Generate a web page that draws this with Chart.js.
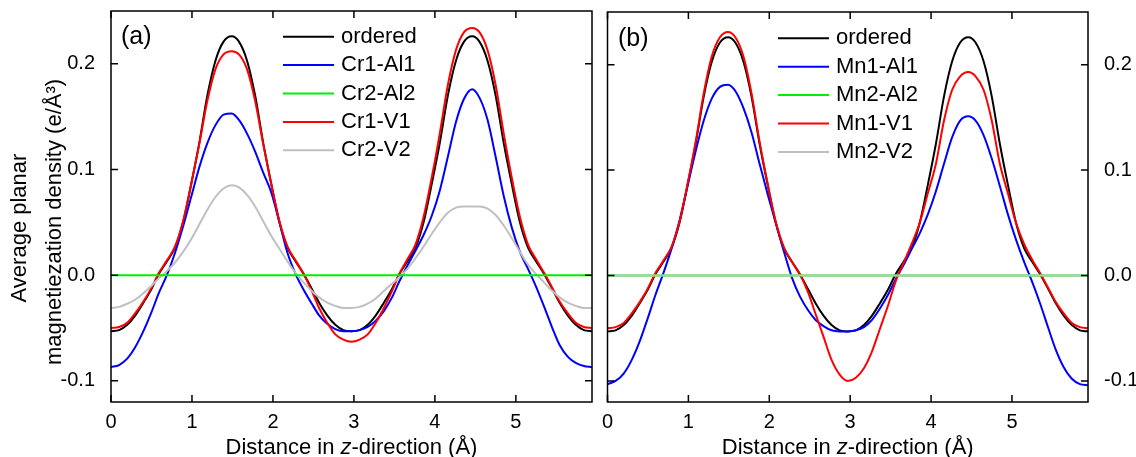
<!DOCTYPE html>
<html>
<head>
<meta charset="utf-8">
<script src="https://cdn.jsdelivr.net/npm/chart.js@4.4.0/dist/chart.umd.min.js"></script>
<style>
body { margin: 0; background: #fff; }
#wrap { position: relative; width: 1136px; height: 457px; }
canvas { position: absolute; top: 0; }
#chartA { left: 0; }
#chartB { left: 600px; }
</style>
</head>
<body>
<div id="wrap">
<canvas id="chartA" width="600" height="457"></canvas>
<canvas id="chartB" width="536" height="457"></canvas>
</div>
<script>
// sample positions along z (Å)
const zPos = [0.00,0.10,0.20,0.30,0.40,0.50,0.59,0.69,0.79,0.89,0.99,1.09,1.19,1.29,1.39,1.49,1.58,1.68,1.78,1.88,1.98,2.08,2.18,2.28,2.38,2.48,2.57,2.67,2.77,2.87,
  2.97,3.07,3.17,3.27,3.37,3.47,3.56,3.66,3.76,3.86,3.96,4.06,4.16,4.26,4.36,4.46,4.55,4.65,4.75,4.85,4.95,5.05,5.15,5.25,5.35,5.45,5.54,5.64,5.74,5.84,5.94];

const xTicks = [0, 1, 2, 3, 4, 5];
const yTicks = [-0.1, 0.0, 0.1, 0.2];

// ordered structure (same in both panels)
const ordered = [-0.053,-0.052,-0.047,-0.038,-0.026,-0.013,0.001,0.013,0.026,0.050,0.086,0.125,0.170,0.203,0.221,0.226,0.221,0.203,0.170,0.125,0.086,0.050,0.026,0.013,0.001,-0.013,-0.026,-0.038,-0.047,-0.052,
  -0.053,-0.052,-0.047,-0.038,-0.026,-0.013,0.001,0.013,0.026,0.050,0.086,0.125,0.170,0.203,0.221,0.226,0.221,0.203,0.170,0.125,0.086,0.050,0.026,0.013,0.001,-0.013,-0.026,-0.038,-0.047,-0.052,-0.053];

// panel (a): Cr swaps
const cr1Al1 = [-0.087,-0.085,-0.079,-0.068,-0.053,-0.035,-0.017,0.000,0.021,0.046,0.074,0.102,0.125,0.142,0.152,0.153,0.147,0.134,0.117,0.097,0.078,0.050,0.021,0.001,-0.014,-0.027,-0.038,-0.046,-0.051,-0.053,
  -0.053,-0.052,-0.049,-0.043,-0.034,-0.021,-0.006,0.009,0.023,0.038,0.056,0.080,0.112,0.145,0.167,0.176,0.168,0.147,0.112,0.075,0.045,0.022,0.006,-0.011,-0.030,-0.050,-0.066,-0.077,-0.083,-0.086,-0.087];
const cr2Al2 = [0,0,0,0,0,0,0,0,0,0,0,0,0,0,0,0,0,0,0,0,0,0,0,0,0,0,0,0,0,0,
  0,0,0,0,0,0,0,0,0,0,0,0,0,0,0,0,0,0,0,0,0,0,0,0,0,0,0,0,0,0,0];
const cr1V1 = [-0.050,-0.049,-0.045,-0.036,-0.025,-0.012,0.002,0.014,0.027,0.051,0.086,0.124,0.165,0.195,0.209,0.212,0.209,0.195,0.165,0.124,0.086,0.051,0.027,0.014,0.001,-0.015,-0.031,-0.045,-0.056,-0.061,
  -0.063,-0.061,-0.056,-0.045,-0.031,-0.015,0.001,0.015,0.029,0.055,0.092,0.134,0.180,0.213,0.230,0.234,0.230,0.213,0.180,0.134,0.092,0.055,0.029,0.015,0.002,-0.012,-0.025,-0.036,-0.045,-0.049,-0.050];
const cr2V2 = [-0.031,-0.030,-0.027,-0.023,-0.017,-0.010,-0.003,0.004,0.012,0.022,0.034,0.048,0.062,0.074,0.082,0.085,0.083,0.076,0.065,0.051,0.037,0.025,0.013,0.002,-0.007,-0.015,-0.021,-0.026,-0.029,-0.031,
  -0.031,-0.030,-0.027,-0.022,-0.015,-0.008,-0.002,0.006,0.016,0.027,0.039,0.050,0.059,0.064,0.065,0.065,0.065,0.063,0.057,0.047,0.035,0.022,0.010,0.001,-0.007,-0.015,-0.021,-0.026,-0.029,-0.031,-0.031];

// panel (b): Mn swaps
const mn1Al1 = [-0.103,-0.100,-0.093,-0.080,-0.062,-0.040,-0.019,0.002,0.025,0.052,0.085,0.118,0.147,0.168,0.179,0.181,0.175,0.159,0.136,0.106,0.077,0.050,0.023,-0.002,-0.020,-0.033,-0.042,-0.048,-0.052,-0.053,
  -0.053,-0.052,-0.049,-0.042,-0.031,-0.018,-0.004,0.010,0.025,0.040,0.058,0.080,0.106,0.131,0.147,0.151,0.147,0.133,0.111,0.085,0.058,0.034,0.013,-0.006,-0.027,-0.050,-0.070,-0.087,-0.098,-0.103,-0.104];
const mn2Al2 = [0,0,0,0,0,0,0,0,0,0,0,0,0,0,0,0,0,0,0,0,0,0,0,0,0,0,0,0,0,0,
  0,0,0,0,0,0,0,0,0,0,0,0,0,0,0,0,0,0,0,0,0,0,0,0,0,0,0,0,0,0,0];
const mn1V1 = [-0.050,-0.049,-0.045,-0.036,-0.025,-0.012,0.002,0.014,0.027,0.051,0.087,0.127,0.173,0.208,0.226,0.231,0.226,0.208,0.173,0.127,0.087,0.051,0.027,0.013,0.001,-0.016,-0.036,-0.058,-0.080,-0.094,
  -0.100,-0.097,-0.088,-0.072,-0.050,-0.028,-0.006,0.012,0.030,0.050,0.078,0.106,0.147,0.176,0.189,0.193,0.189,0.176,0.147,0.106,0.078,0.050,0.030,0.015,0.002,-0.012,-0.025,-0.036,-0.045,-0.049,-0.050];
const mn2V2 = [0,0,0,0,0,0,0,0,0,0,0,0,0,0,0,0,0,0,0,0,0,0,0,0,0,0,0,0,0,0,
  0,0,0,0,0,0,0,0,0,0,0,0,0,0,0,0,0,0,0,0,0,0,0,0,0,0,0,0,0,0,0];

const FONT = '"Liberation Sans", Arial, Helvetica, sans-serif';
Chart.defaults.font.family = FONT;
Chart.defaults.color = '#000';

function series(vals) {
  return vals.map((v, i) => ({ x: zPos[i], y: v }));
}

function line(label, vals, color, order) {
  return {
    label, data: series(vals), borderColor: color, backgroundColor: color,
    borderWidth: 2, pointRadius: 0, fill: false, order,
    cubicInterpolationMode: 'monotone'
  };
}

// frame, inward ticks, legend, panel letter and axis titles
const decor = {
  id: 'decor',
  afterDraw(chart, args, o) {
    const ctx = chart.ctx;
    const { left, right, top, bottom } = chart.chartArea;
    const xs = chart.scales.x, ys = chart.scales.y;
    ctx.save();
    ctx.strokeStyle = '#000';
    ctx.lineWidth = 1.5;
    ctx.strokeRect(left, top, right - left, bottom - top);
    ctx.beginPath();
    xs.ticks.forEach(t => {
      const px = xs.getPixelForValue(t.value);
      ctx.moveTo(px, bottom); ctx.lineTo(px, bottom - 7);
      ctx.moveTo(px, top); ctx.lineTo(px, top + 7);
    });
    ys.ticks.forEach(t => {
      const py = ys.getPixelForValue(t.value);
      ctx.moveTo(left, py); ctx.lineTo(left + 7, py);
      ctx.moveTo(right, py); ctx.lineTo(right - 7, py);
    });
    ctx.stroke();

    // legend, in dataset order
    ctx.font = '22px ' + FONT;
    ctx.textBaseline = 'middle';
    ctx.textAlign = 'left';
    chart.data.datasets.forEach((ds, i) => {
      const y = o.legendY + i * 28.4;
      ctx.strokeStyle = ds.borderColor;
      ctx.lineWidth = 2;
      ctx.beginPath();
      ctx.moveTo(o.legendX, y); ctx.lineTo(o.legendX + 51, y);
      ctx.stroke();
      ctx.fillStyle = '#000';
      ctx.fillText(ds.label, o.legendX + 58, y);
    });

    // panel letter
    ctx.font = '25px ' + FONT;
    ctx.textBaseline = 'alphabetic';
    ctx.fillText(o.panel, o.panelX, o.panelY);

    // x title with italic z
    const parts = [['Distance in ', false], ['z', true], ['-direction (Å)', false]];
    let total = 0;
    parts.forEach(p => { ctx.font = (p[1] ? 'italic ' : '') + '22px ' + FONT; total += ctx.measureText(p[0]).width; });
    let x = (left + right) / 2 - total / 2;
    parts.forEach(p => {
      ctx.font = (p[1] ? 'italic ' : '') + '22px ' + FONT;
      ctx.fillText(p[0], x, 454);
      x += ctx.measureText(p[0]).width;
    });

    if (o.yTitle) {
      ctx.font = '22px ' + FONT;
      ctx.textAlign = 'center';
      o.yTitle.forEach(t => {
        ctx.save();
        ctx.translate(t.x, t.y);
        ctx.rotate(-Math.PI / 2);
        ctx.fillText(t.text, 0, 0);
        ctx.restore();
      });
    }
    ctx.restore();
  }
};

function makeChart(id, datasets, side, pad, yWidth, deco) {
  return new Chart(document.getElementById(id), {
    type: 'line',
    data: { datasets },
    plugins: [decor],
    options: {
      responsive: false,
      animation: false,
      layout: { padding: pad },
      plugins: { legend: { display: false }, tooltip: { enabled: false }, decor: deco },
      scales: {
        x: {
          type: 'linear', min: 0, max: 5.94,
          afterBuildTicks: s => { s.ticks = xTicks.map(v => ({ value: v })); },
          afterFit: s => { s.height = 55; s.paddingLeft = 0; s.paddingRight = 0; },
          ticks: { font: { size: 20 }, padding: 0, callback: v => String(v) },
          grid: { display: false }, border: { display: false }
        },
        y: {
          type: 'linear', position: side, min: -0.12, max: 0.25,
          afterBuildTicks: s => { s.ticks = yTicks.map(v => ({ value: v })); },
          afterFit: s => { s.width = yWidth; s.paddingTop = 0; s.paddingBottom = 0; },
          ticks: { font: { size: 20 }, padding: 8, callback: v => v.toFixed(1) },
          grid: { display: false }, border: { display: false }
        }
      }
    }
  });
}

makeChart('chartA', [
  line('ordered', ordered, '#000000', 4),
  line('Cr1-Al1', cr1Al1, '#0000ff', 3),
  line('Cr2-Al2', cr2Al2, '#00ee00', 0),
  line('Cr1-V1', cr1V1, '#ff0000', 2),
  line('Cr2-V2', cr2V2, '#c0c0c0', 1)
], 'left', { left: 0, top: 11, right: 8, bottom: 0 }, 111, {
  panel: '(a)', panelX: 121, panelY: 44, legendX: 283, legendY: 36.7,
  yTitle: [
    { text: 'Average planar', x: 26, y: 228 },
    { text: 'magnetiezation density (e/Å³)', x: 61, y: 222 }
  ]
});

makeChart('chartB', [
  line('ordered', ordered, '#000000', 4),
  line('Mn1-Al1', mn1Al1, '#0000ff', 3),
  line('Mn2-Al2', mn2Al2, '#00ee00', 1),
  line('Mn1-V1', mn1V1, '#ff0000', 2),
  line('Mn2-V2', mn2V2, '#c0c0c0', 0)
], 'right', { left: 7.5, top: 12, right: 0, bottom: 0 }, 48, {
  panel: '(b)', panelX: 18, panelY: 46, legendX: 178, legendY: 38.3
});
</script>
</body>
</html>
